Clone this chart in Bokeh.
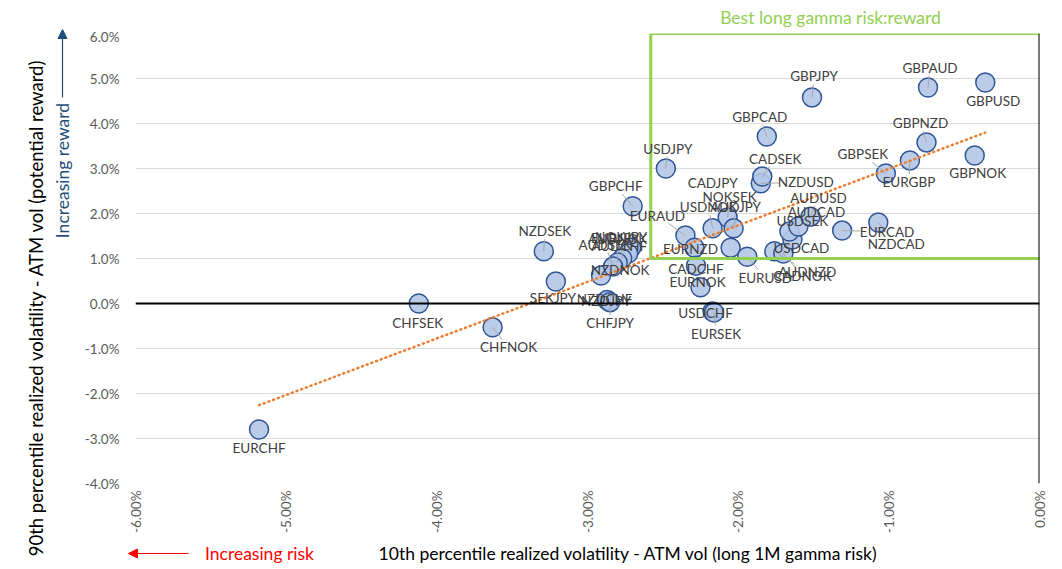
import numpy as np
from bokeh.plotting import figure
from bokeh.layouts import column, row
from bokeh.models import (ColumnDataSource, FixedTicker, PrintfTickFormatter, Span,
                          Label, Arrow, NormalHead)
from bokeh.core.properties import value
from bokeh.embed import file_html
from bokeh.resources import INLINE

# ---------------- data ----------------
pairs = ["EURCHF", "CHFSEK", "CHFNOK", "NZDSEK", "SEKJPY", "NZDNOK", "AUDCHF", "EURJPY",
         "NOKJPY", "AUDNOK", "AUDSEK", "NZDCHF", "NZDJPY", "CHFJPY", "GBPCHF", "USDJPY",
         "EURAUD", "EURNZD", "CADCHF", "EURNOK", "USDCHF", "EURSEK", "NOKSEK", "USDNOK",
         "AUDJPY", "CADJPY", "EURUSD", "AUDNZD", "CADNOK", "USDCAD", "USDSEK", "AUDCAD",
         "AUDUSD", "EURCAD", "NZDCAD", "NZDUSD", "CADSEK", "GBPCAD", "GBPJPY", "GBPAUD",
         "GBPUSD", "GBPNZD", "EURGBP", "GBPSEK", "GBPNOK"]
# 10th percentile realized vol - ATM vol (%)
risk = [-5.18, -4.12, -3.63, -3.29, -3.21, -2.91, -2.71, -2.73,
        -2.77, -2.80, -2.83, -2.86, -2.87, -2.85, -2.70, -2.48,
        -2.35, -2.29, -2.28, -2.25, -2.17, -2.16, -2.07, -2.17,
        -2.03, -2.05, -1.94, -1.76, -1.70, -1.64, -1.66, -1.60,
        -1.52, -1.31, -1.07, -1.85, -1.84, -1.81, -1.51, -0.74,
        -0.36, -0.75, -0.86, -1.02, -0.43]
# 90th percentile realized vol - ATM vol (%)
reward = [-2.80, 0.00, -0.53, 1.16, 0.49, 0.62, 1.24, 1.11,
          1.00, 0.91, 0.82, 0.05, 0.08, 0.03, 2.16, 3.00,
          1.51, 1.24, 0.84, 0.36, -0.18, -0.20, 1.91, 1.67,
          1.67, 1.24, 1.04, 1.16, 1.11, 1.42, 1.60, 1.71,
          1.93, 1.62, 1.80, 2.67, 2.82, 3.71, 4.58, 4.80,
          4.91, 3.58, 3.18, 2.89, 3.29]

# label placement (screen pixels relative to the point; +dy = down)
label_dx = [0, -1, 16, 1, -3, 19, -12, -13,
            -1, 0, -8, -4, -1, 0, -17, 2,
            -28, -4, 0, -3, -7, 2, 2, -4,
            2, -18, 18, 33, 19, 9, 13, 18,
            8, 45, 18, 45, 13, -7, 2, 2,
            8, -6, -1, -23, 3]
label_dy = [18, 19, 20, -20, 17, -6, -2, -16,
            -22, -24, -22, -2, 1, 21, -20, -20,
            -20, 1, 3, -5, 1, 21, -21, -21,
            -21, -65, 21, 21, 22, 8, -11, -15,
            -19, 1, 21, -1, -18, -20, -21, -20,
            18, -19, 22, -19, 18]

x_ticks = [-6, -5, -4, -3, -2, -1, 0]
y_ticks = [-4, -3, -2, -1, 0, 1, 2, 3, 4, 5, 6]

# highlighted region "Best long gamma risk:reward"
box_left, box_right, box_bottom, box_top = -2.58, 0.01, 1.0, 6.0

# ---------------- layout ----------------
FONT = "Lato"
TITLE_SIZE = "17.5px"
W = 1054
TOP_H = 28
LEFT_W = 80
FW, FH = 904, 450
B_TOP, B_LEFT, B_RIGHT, B_BOTTOM = 5, 55, 15, 55
MAIN_W = B_LEFT + FW + B_RIGHT
MID_H = B_TOP + FH + B_BOTTOM
BOT_H = 27
X0, X1, Y0, Y1 = -6, 0, -4, 6
PX = FW / (X1 - X0)
PY = FH / (Y1 - Y0)


def strip(w, h):
    f = figure(width=w, height=h, x_range=(0, w), y_range=(0, h),
               output_backend="svg", toolbar_location=None,
               x_axis_type=None, y_axis_type=None, min_border=0)
    f.outline_line_color = None
    f.xgrid.grid_line_color = None
    f.ygrid.grid_line_color = None
    return f


p = figure(frame_width=FW, frame_height=FH, x_range=(X0, X1), y_range=(Y0, Y1),
           output_backend="svg", toolbar_location=None,
           min_border_left=B_LEFT, min_border_right=B_RIGHT,
           min_border_top=B_TOP, min_border_bottom=B_BOTTOM)
p.outline_line_color = None

p.xgrid.grid_line_color = None
p.ygrid.grid_line_color = "#D9D9D9"
p.ygrid.grid_line_width = 1

p.xaxis.ticker = FixedTicker(ticks=x_ticks)
p.yaxis.ticker = FixedTicker(ticks=y_ticks)
p.xaxis.formatter = PrintfTickFormatter(format="%.2f%%")
p.yaxis.formatter = PrintfTickFormatter(format="%.1f%%")
for ax in (p.xaxis, p.yaxis):
    ax.axis_line_color = None
    ax.major_tick_line_color = None
    ax.minor_tick_line_color = None
    ax.major_tick_out = 0
    ax.major_tick_in = 0
    ax.major_label_text_font = FONT
    ax.major_label_text_font_size = "13.5px"
    ax.major_label_text_color = "#595959"
p.xaxis.major_label_orientation = np.pi / 2
p.xaxis.major_label_standoff = 7
p.yaxis.major_label_standoff = 16

# axes crossing at zero
p.add_layout(Span(location=0, dimension="width", line_color="black", line_width=2))
p.add_layout(Span(location=0, dimension="height", line_color="black", line_width=2))

# points
src = ColumnDataSource(dict(x=risk, y=reward, name=pairs))
p.scatter("x", "y", source=src, size=19, fill_color="#B4C7E7", fill_alpha=0.9,
          line_color="#2F5597", line_width=1.5)

# label positions and leader lines
lx, ly, sx0, sy0, sx1, sy1 = [], [], [], [], [], []
for name, x, y, dx, dy in zip(pairs, risk, reward, label_dx, label_dy):
    lx.append(x + dx / PX)
    ly.append(y - dy / PY)
    hw = 0.5 * len(name) * 8.6 + 1
    hh = 8
    if abs(dx) <= hw and abs(dy) <= hh:
        continue
    tx = hw / abs(dx) if dx else np.inf
    ty = hh / abs(dy) if dy else np.inf
    t = min(tx, ty)
    ex, ey = dx * (1 - t), dy * (1 - t)
    if np.hypot(ex, ey) < 11.5 or np.hypot(dx, dy) > 60:
        continue
    sx0.append(x); sy0.append(y)
    sx1.append(x + ex / PX); sy1.append(y - ey / PY)

p.segment(x0=sx0, y0=sy0, x1=sx1, y1=sy1, line_color="#A6A6A6", line_width=1)

# linear trend line
coef = np.polyfit(risk, reward, 1)
tx_ = np.array([min(risk), max(risk)])
p.line(tx_, np.polyval(coef, tx_), line_color="#ED7D31", line_width=2.5,
       line_dash="1 4", line_cap="round")

# highlight box
p.quad(left=[box_left], right=[box_right], bottom=[box_bottom], top=[box_top],
       fill_color=None, line_color="#92D050", line_width=3)

lsrc = ColumnDataSource(dict(x=lx, y=ly, name=pairs))
p.text("x", "y", text="name", source=lsrc, text_font=value(FONT), text_font_size="13.5px",
       text_color="#404040", text_align="center", text_baseline="middle")

# ---------------- surrounding texts ----------------
top = strip(W, TOP_H)
top.add_layout(Label(x=830, y=TOP_H - 17, text="Best long gamma risk:reward", text_font=FONT,
                     text_font_size=TITLE_SIZE, text_color="#92D050",
                     text_align="center", text_baseline="middle"))

G = TOP_H + MID_H + BOT_H  # global y of the bottom edge
left = strip(LEFT_W, MID_H + BOT_H)
left.add_layout(Label(x=35, y=G - 307, angle=np.pi / 2,
                      text="90th percentile realized volatility - ATM vol (potential reward)",
                      text_font=FONT, text_font_size="18.5px", text_color="black",
                      text_align="center", text_baseline="middle"))
left.add_layout(Label(x=62, y=G - 170, angle=np.pi / 2, text="Increasing reward",
                      text_font=FONT, text_font_size=TITLE_SIZE, text_color="#1F4E79",
                      text_align="center", text_baseline="middle"))
left.add_layout(Arrow(x_start=62, y_start=G - 97, x_end=62, y_end=G - 29,
                      line_color="#1F4E79", line_width=1.2,
                      end=NormalHead(size=9, fill_color="#1F4E79", line_color="#1F4E79")))

bottom = strip(MAIN_W, BOT_H)
by = BOT_H - (553 - TOP_H - MID_H)
bottom.add_layout(Label(x=628 - LEFT_W, y=by,
                        text="10th percentile realized volatility - ATM vol (long 1M gamma risk)",
                        text_font=FONT, text_font_size=TITLE_SIZE, text_color="black",
                        text_align="center", text_baseline="middle"))
bottom.add_layout(Label(x=259 - LEFT_W, y=by, text="Increasing risk",
                        text_font=FONT, text_font_size=TITLE_SIZE, text_color="#FF0000",
                        text_align="center", text_baseline="middle"))
bottom.add_layout(Arrow(x_start=188 - LEFT_W, y_start=by, x_end=128 - LEFT_W, y_end=by,
                        line_color="#FF0000", line_width=1.2,
                        end=NormalHead(size=9, fill_color="#FF0000", line_color="#FF0000")))

layout = column(top, row(left, column(p, row(bottom, spacing=0), spacing=0), spacing=0),
                spacing=0)
open("out.html", "w").write(file_html(layout, INLINE))
